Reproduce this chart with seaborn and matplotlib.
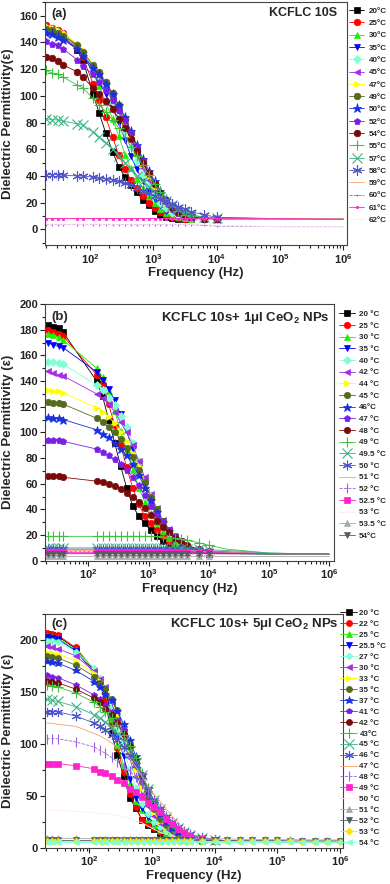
import seaborn as sns
import matplotlib.pyplot as plt
from matplotlib.ticker import MultipleLocator

# ---------------- panel (a): KCFLC 10S ----------------
freq_a = [20, 25, 31, 38, 63, 77, 112, 140, 178, 228, 284, 360, 440, 550, 680, 850,
          1050, 1300, 1600, 2000, 2500, 3200, 4000, 6300, 1e4, 1e5, 1e6]
labels_a = ["20°C", "25°C", "30°C", "35°C", "40°C", "45°C", "47°C", "49°C", "50°C",
            "52°C", "54°C", "55°C", "57°C", "58°C", "59°C", "60°C", "61°C", "62°C"]
a20 = [150, 149, 147, 145, 134, 127, 101, 87, 72, 58, 47, 39, 33, 28, 22, 18, 14, 11, 9, 8.5, 8, 8, 8, 8, 8, 8, 8]
a25 = [153, 151, 149, 147, 136, 129, 109, 97, 84, 69, 56, 45, 37, 31, 25, 20, 16, 13, 10.5, 9, 8.5, 8, 8, 8, 8, 8, 8]
a30 = [152, 151, 149, 147, 138, 132, 117, 107, 95, 83, 70, 56, 46, 38, 31, 25, 19.5, 15.5, 12.5, 10, 9, 8.5, 8, 8, 8, 8, 8]
a35 = [149, 147, 145, 143, 135, 130, 118, 110, 101, 91, 80, 67, 55, 45, 36, 29, 23, 18, 14, 11, 9.5, 8.5, 8, 8, 8, 8, 8]
a40 = [151, 150, 148, 146, 138, 133, 121, 114, 105, 95, 85, 74, 62, 51, 41, 33, 26, 20, 16, 12.5, 10.5, 9, 8.5, 8, 8, 8, 8]
a45 = [148, 147, 145, 143, 136, 131, 121, 115, 107, 98, 88, 78, 67, 56, 46, 37, 29, 23, 18, 14, 11.5, 10, 9, 8, 8, 8, 8]
a47 = [152, 151, 149, 147, 139, 134, 123, 117, 109, 100, 91, 81, 70, 59, 49, 40, 32, 25, 19.5, 15, 12, 10, 9, 8, 8, 8, 8]
a49 = [150, 149, 147, 145, 138, 133, 123, 118, 110, 102, 93, 83, 72, 61, 51, 42, 34, 27, 21, 16, 13, 10.5, 9.5, 8.5, 8, 8, 8]
a50 = [147, 146, 144, 142, 135, 130, 121, 116, 109, 101, 93, 84, 74, 63, 53, 44, 36, 29, 23, 18, 14, 11.5, 10, 8.5, 8, 8, 8]
a52 = [141, 139, 138, 135, 127, 122, 116, 110, 104, 97, 89, 82, 72, 62, 51, 42, 34, 27, 21, 16, 12, 10, 9, 8, 8, 8, 8]
a54 = [129, 128, 126, 123, 118, 114, 106, 101, 96, 90, 83, 76, 68, 59, 50, 42, 34, 27, 22, 17, 13, 10, 9, 8, 8, 8, 8]
a55 = [119, 117, 116, 114, 108, 106, 98, 93, 88, 82, 76, 69, 62, 55, 48, 41, 34, 28, 23, 18, 14, 11, 10, 9, 8.5, 8, 8]
a57 = [83, 82, 82, 81, 79, 78, 73, 69, 65, 60, 55, 50, 45, 40, 36, 32, 28, 24, 21, 18, 15, 13, 11, 9, 8.5, 8, 8]
a58 = [41, 41, 41, 40.5, 40, 40, 39, 38.5, 38, 37, 36, 34.5, 33, 31, 29, 27, 25, 23, 21, 19, 17, 15, 13, 11, 9, 8, 8]
a59 = [8.5, 8.5, 8.5, 8.5, 8.5, 8.5, 8.5, 8.5, 8.5, 8.5, 8.5, 8.5, 8.5, 8.5, 8.5, 8.5, 8.5, 8.5, 8.5, 8.5, 8.5, 8.5, 8.5, 8.5, 8.5, 8.5, 8.5]
a60 = [3.5, 3.5, 3.5, 3.5, 3.5, 3.5, 3.5, 3.5, 3.5, 3.5, 3.5, 3.5, 3.5, 3.5, 3.5, 3.5, 3.5, 3.5, 3.5, 3.5, 3.5, 3.5, 3.5, 3, 2.5, 2, 2]
a61 = [8, 8, 8, 8, 8, 8, 8, 8, 8, 8, 8, 8, 8, 8, 8, 8, 8, 8, 8, 8, 8, 8, 8, 8, 8, 8, 7.5]
a62 = [3.8, 3.8, 3.8, 3.8, 3.8, 3.8, 3.8, 3.8, 3.8, 3.8, 3.8, 3.8, 3.8, 3.8, 3.8, 3.8, 3.8, 3.8, 3.8, 3.8, 3.8, 3.8, 3.8, 3.5, 3, 2, 2]

# ---------------- panel (b): KCFLC 10s + 1 ul CeO2 ----------------
freq_b = [21, 26, 32, 38, 137, 172, 216, 272, 342, 430, 541, 681, 857, 1080, 1360, 1710,
          2150, 2700, 3400, 4300, 6800, 1e4, 2e4, 1e5, 1e6]
labels_b = ["20 °C", "25 °C", "30 °C", "35 °C", "40 °C", "42 °C", "44 °C", "45 °C", "46°C", "47 °C",
            "48 °C", "49 °C", "49.5 °C", "50 °C", "51 °C", "52 °C", "52.5 °C", "53 °C", "53.5 °C", "54°C"]
b20 = [184, 182, 181, 178, 140, 128, 110, 92, 74, 57, 43, 35, 29, 24, 19, 15, 12, 9.5, 8, 7, 6, 5.5, 5, 5, 5]
b25 = [180, 178, 177, 175, 145, 138, 122, 106, 90, 73, 57, 44, 35, 29, 24, 19, 15, 12, 9.5, 8, 6.5, 6, 5.5, 5, 5]
b30 = [177, 176, 174, 172, 150, 143, 132, 117, 101, 86, 71, 57, 46, 37, 29, 23, 18, 14, 11, 9, 7, 6, 5.5, 5, 5]
b35 = [170, 168, 167, 166, 147, 141, 134, 125, 114, 101, 87, 72, 58, 46, 36, 28, 22, 17, 13, 10, 7.5, 6.5, 5.5, 5, 5]
b40 = [155, 155, 154, 153, 137, 133, 127, 121, 113, 104, 92, 78, 63, 50, 39, 30, 23, 18, 14, 11, 8, 6.5, 5.5, 5, 5]
b42 = [148, 146, 145, 144, 130, 127, 122, 116, 108, 100, 90, 78, 65, 52, 41, 32, 25, 19, 15, 11, 8, 6.5, 5.5, 5, 5]
b44 = [133, 132, 132, 131, 119, 116, 112, 107, 100, 93, 84, 74, 62, 51, 40, 31, 24, 19, 15, 11, 8, 6.5, 5.5, 5, 5]
b45 = [124, 123, 123, 122, 111, 108, 104, 100, 95, 88, 81, 71, 61, 50, 40, 31, 24, 19, 15, 11, 8, 6.5, 5.5, 5, 5]
b46 = [112, 111, 111, 110, 102, 99, 96, 92, 87, 82, 75, 67, 57, 47, 38, 30, 23, 18, 14, 11, 8, 6.5, 5.5, 5, 5]
b47 = [94, 94, 94, 93, 87, 85, 82, 79, 75, 71, 65, 59, 51, 43, 36, 30, 24, 19, 15, 12, 8.5, 7, 6, 5, 5]
b48 = [66, 66, 66, 65, 62, 61, 60, 58, 56, 53, 50, 46, 41, 36, 31, 26, 22, 18, 15, 12, 9, 7.5, 6, 5, 5]
b49 = [19, 19, 19, 19, 19, 19, 19, 19, 19, 19, 19, 19, 19, 19, 19, 18.5, 18, 17.5, 17, 16, 14, 12, 9, 6, 5]
b495 = [10, 10, 10, 10, 10, 10, 10, 10, 10, 10, 10, 10, 10, 10, 10, 10, 10, 10, 9.5, 9.5, 9, 8.5, 8, 6, 5]
b50 = [9, 9, 9, 9, 9, 9, 9, 9, 9, 9, 9, 9, 9, 9, 9, 9, 9, 9, 8.5, 8.5, 8, 7.5, 7, 5.5, 5]
b51 = [8, 8, 8, 8, 8, 8, 8, 8, 8, 8, 8, 8, 8, 8, 8, 8, 8, 8, 8, 8, 7.5, 7, 6.5, 5.5, 5]
b52 = [7, 7, 7, 7, 7, 7, 7, 7, 7, 7, 7, 7, 7, 7, 7, 7, 7, 7, 7, 7, 7, 6.5, 6, 5.5, 5]
b525 = [6.5, 6.5, 6.5, 6.5, 6.5, 6.5, 6.5, 6.5, 6.5, 6.5, 6.5, 6.5, 6.5, 6.5, 6.5, 6.5, 6.5, 6.5, 6.5, 6.5, 6.5, 6, 6, 5.5, 5]
b53 = [5, 5, 5, 5, 5, 5, 5, 5, 5, 5, 5, 5, 5, 5, 5, 5, 5, 5, 5, 5, 5, 5, 5, 5, 5]
b535 = [4, 4, 4, 4, 4, 4, 4, 4, 4, 4, 4, 4, 4, 4, 4, 4, 4, 4, 4, 4, 4, 4, 4, 4, 4]
b54 = [5.5, 5.5, 5.5, 5.5, 5.5, 5.5, 5.5, 5.5, 5.5, 5.5, 5.5, 5.5, 5.5, 5.5, 5.5, 5.5, 5.5, 5.5, 5.5, 5.5, 5.5, 5.5, 5.5, 5, 5]

# ---------------- panel (c): KCFLC 10s + 5 ul CeO2 ----------------
freq_c = [21, 25, 31, 60, 120, 145, 180, 225, 280, 350, 440, 550, 690, 850, 1060, 1330, 1650,
          2070, 2600, 3200, 4000, 6300, 1e4, 1.6e4, 2.5e4, 4e4, 6.3e4, 1e5, 1.6e5, 2.5e5, 4e5, 6.3e5, 1e6]
labels_c = ["20 °C", "22 °C", "25 °C", "25.5 °C", "27 °C", "30 °C", "33 °C", "35 °C", "37 °C", "41 °C", "42 °C",
            "43°C", "45 °C", "46 °C", "47 °C", "48 °C", "49 °C", "50 °C", "51 °C", "52 °C", "53 °C", "54 °C"]
c20 = [206, 205, 204, 192, 170, 160, 140, 111, 89, 69, 48, 38, 27, 22, 18, 14.5, 12, 10, 8.5, 7.5, 7, 6.5, 6.2, 6, 6, 6, 5.9, 5.8, 5.8, 5.7, 5.6, 5.6, 5.5]
c22 = [207, 206, 205, 193, 171, 161, 143, 119, 96, 73, 52, 39, 27, 23, 19, 15.5, 12.5, 10, 8.5, 7.5, 7, 6.5, 6.2, 6, 6, 6, 5.9, 5.8, 5.8, 5.7, 5.6, 5.6, 5.5]
c25 = [204, 203, 202, 191, 172, 163, 150, 124, 99, 80, 62, 45, 36, 28, 22, 17, 14, 11, 9, 8, 7, 6.5, 6.2, 6, 6, 6, 5.9, 5.8, 5.8, 5.7, 5.6, 5.6, 5.5]
c255 = [203, 202, 201, 190, 168, 160, 152, 128, 108, 88, 66, 48, 38, 30, 24, 19, 15, 12, 9.5, 8, 7, 6.5, 6.2, 6, 6, 6, 5.9, 5.8, 5.8, 5.7, 5.6, 5.6, 5.5]
c27 = [199, 199, 198, 189, 173, 164, 153, 136, 116, 96, 76, 58, 42, 32, 25, 20, 16, 12.5, 10, 8.5, 7.5, 6.5, 6.2, 6, 6, 6, 5.9, 5.8, 5.8, 5.7, 5.6, 5.6, 5.5]
c30 = [194, 193, 192, 185, 170, 163, 155, 140, 123, 105, 86, 68, 52, 40, 31, 24, 19, 15, 12, 9.5, 8, 7, 6.2, 6, 6, 6, 5.9, 5.8, 5.8, 5.7, 5.6, 5.6, 5.5]
c33 = [189, 188, 187, 180, 168, 161, 154, 143, 128, 112, 94, 76, 58, 44, 34, 26, 20, 16, 12.5, 10, 8.5, 7, 6.2, 6, 6, 6, 5.9, 5.8, 5.8, 5.7, 5.6, 5.6, 5.5]
c35 = [185, 184, 183, 176, 165, 159, 153, 143, 133, 113, 97, 80, 63, 48, 37, 28, 22, 17, 13, 10.5, 9, 7, 6.2, 6, 6, 6, 5.9, 5.8, 5.8, 5.7, 5.6, 5.6, 5.5]
c37 = [180, 179, 178, 171, 160, 155, 148, 142, 132, 119, 104, 88, 70, 54, 42, 32, 25, 19, 15, 12, 9.5, 7.5, 6.5, 6, 6, 6, 5.9, 5.8, 5.8, 5.7, 5.6, 5.6, 5.5]
c41 = [166, 165, 164, 157, 147, 143, 138, 131, 123, 113, 99, 83, 68, 55, 45, 37, 30, 24, 19, 15, 12, 9, 7, 6.2, 6, 6, 5.9, 5.8, 5.8, 5.7, 5.6, 5.6, 5.5]
c42 = [161, 160, 159, 153, 144, 140, 134, 128, 120, 110, 98, 85, 70, 56, 44, 36, 29, 23, 18, 14, 11, 8.5, 7, 6.2, 6, 6, 5.9, 5.8, 5.8, 5.7, 5.6, 5.6, 5.5]
c43 = [157, 156, 155, 149, 140, 136, 131, 125, 118, 109, 98, 86, 72, 58, 46, 37, 30, 24, 19, 15, 12, 9, 7, 6.2, 6, 6, 5.9, 5.8, 5.8, 5.7, 5.6, 5.6, 5.5]
c45 = [143, 142, 141, 136, 128, 125, 121, 116, 110, 102, 93, 82, 70, 57, 46, 37, 30, 24, 19, 15, 12, 9, 7, 6.2, 6, 6, 5.9, 5.8, 5.8, 5.7, 5.6, 5.6, 5.5]
c46 = [131, 131, 131, 127, 120, 117, 113, 109, 104, 97, 89, 80, 69, 57, 46, 37, 30, 25, 20, 16, 13, 10, 8, 6.5, 6, 6, 5.9, 5.8, 5.8, 5.7, 5.6, 5.6, 5.5]
c47 = [120, 120, 119, 117, 110, 108, 105, 101, 97, 92, 86, 78, 69, 60, 52, 45, 38, 31, 24, 18, 14, 9, 7, 6.2, 6, 6, 5.9, 5.8, 5.8, 5.7, 5.6, 5.6, 5.5]
c48 = [105, 105, 105, 102, 97, 94, 91, 87, 83, 79, 74, 68, 61, 53, 45, 38, 31, 25, 20, 16, 13, 9.5, 7.5, 6.5, 6, 6, 5.9, 5.8, 5.8, 5.7, 5.6, 5.6, 5.5]
c49 = [81, 81, 81, 79, 76, 73, 72, 69, 65, 62, 57, 54, 49, 43, 39, 34, 28, 23, 18, 14, 11, 8, 7, 6.2, 6, 6, 5.9, 5.8, 5.8, 5.7, 5.6, 5.6, 5.5]
c50 = [36, 36, 36, 35, 34, 33, 33, 32, 31, 30, 28, 26, 24, 21, 18, 15, 13, 11, 9, 8, 7, 6.5, 6.2, 6, 6, 6, 5.9, 5.8, 5.8, 5.7, 5.6, 5.6, 5.5]
c51 = [9, 9, 9, 9, 8.5, 8.5, 8.5, 8.5, 8.5, 8.5, 8.5, 8.5, 8.5, 8.5, 8.5, 8.5, 8.5, 8.5, 8.5, 8.5, 8.5, 8.5, 8.5, 8.5, 8, 8, 8, 8, 8, 7.5, 7.5, 7.5, 7.5]
c52 = [7, 7, 7, 7, 7, 7, 7, 7, 7, 7, 7, 7, 7, 7, 7, 7, 7, 7, 7, 7, 7, 7, 7, 7, 7, 7, 7, 7, 6.5, 6.5, 6.5, 6.5, 6.5]
c53 = [6, 6, 6, 6, 6, 6, 6, 6, 6, 6, 6, 6, 6, 6, 6, 6, 6, 6, 6, 6, 6, 6, 6, 6, 6, 6, 6, 6, 6, 5.5, 5.5, 5.5, 5.5]
c54 = [5, 5, 5, 5, 5, 5, 5, 5, 5, 5, 5, 5, 5, 5, 5, 5, 5, 5, 5, 5, 5, 5, 5, 5, 5, 5, 5, 5, 5, 5, 5, 5, 5]

series_a = [a20, a25, a30, a35, a40, a45, a47, a49, a50, a52, a54, a55, a57, a58, a59, a60, a61, a62]
series_b = [b20, b25, b30, b35, b40, b42, b44, b45, b46, b47, b48, b49, b495, b50, b51, b52, b525, b53, b535, b54]
series_c = [c20, c22, c25, c255, c27, c30, c33, c35, c37, c41, c42, c43, c45, c46, c47, c48, c49, c50,
            c51, c52, c53, c54]

# Origin-like style sequence (same slot order in every panel)
colors = ["#000000", "#FF0000", "#22EE00", "#0000FF", "#7FFFD4", "#A030E0", "#FFFF00", "#556B1F",
          "#1A2FE0", "#7B1FE8", "#7A0A0A", "#3CC03C", "#3CB383", "#5055C8", "#F5A070", "#9A5FE0",
          "#FF22CC", "#FFE8F2", "#A9A9A9", "#4F5F5F", "#FFE000", "#80FFD0"]
markers = ["s", "o", "^", "v", "D", "<", ">", "o", "*", "p", "o", "+", "x", (6, 2, 0),
           "None", "|", "s", "None", "^", "v", "D", "<"]
open_markers = {"+", "x", "|"}

sns.set_theme(style="ticks")
plt.rcParams["font.family"] = ["Liberation Sans", "DejaVu Sans"]
plt.rcParams["font.weight"] = "bold"
plt.rcParams["axes.labelweight"] = "bold"
plt.rcParams["mathtext.fontset"] = "custom"
plt.rcParams["mathtext.rm"] = "Liberation Sans:bold"
plt.rcParams["mathtext.it"] = "Liberation Sans:italic:bold"
plt.rcParams["mathtext.bf"] = "Liberation Sans:bold"
plt.rcParams["mathtext.default"] = "regular"

fig = plt.figure(figsize=(3.9, 8.84), dpi=100)


def draw_panel(ax, freq, series, labels, ms, n_mark, full_mark=(), tiny_mark=()):
    for i, (vals, lab) in enumerate(zip(series, labels)):
        m = markers[i]
        c = colors[i]
        size = ms
        mew = 0.5
        if m == "*":
            size = ms * 1.4
        elif m == "D":
            size = ms * 0.8
        elif m in open_markers or isinstance(m, tuple):
            size = ms * 1.5
            mew = 0.8
        if i in tiny_mark:
            size = 2.0
        every = slice(None) if i in full_mark else slice(0, n_mark)
        sns.lineplot(x=freq, y=vals, ax=ax, color=c, marker=m, markersize=size,
                     markeredgecolor=c, markerfacecolor=c, markeredgewidth=mew,
                     markevery=every, linewidth=0.6,
                     linestyle="--" if m == "|" else "-", label=lab)
    ax.set_xscale("log")
    ax.tick_params(axis="both", which="both", direction="out", top=False, right=False,
                   labelsize=8, width=0.8, colors="#222222", pad=1.5)
    ax.tick_params(which="major", length=3.5)
    ax.tick_params(which="minor", length=2)
    for sp in ax.spines.values():
        sp.set_linewidth(0.8)
        sp.set_color("#444444")
    ax.set_xlabel("Frequency (Hz)", fontsize=9.5, fontweight="bold", labelpad=1)


# ---- (a)
ax_a = fig.add_axes([0.1154, 0.7229, 0.7744, 0.2752])
draw_panel(ax_a, freq_a, series_a, labels_a, 4.8, 25, tiny_mark=(15, 16))
ax_a.set_xlim(19.5, 1.15e6)
ax_a.set_ylim(-11.7, 170.5)
ax_a.yaxis.set_major_locator(MultipleLocator(20))
ax_a.yaxis.set_minor_locator(MultipleLocator(10))
ax_a.set_ylabel("Dielectric Permittivity(ε)", fontsize=9.5, fontweight="bold", labelpad=4)
ax_a.text(0.022, 0.949, "(a)", transform=ax_a.transAxes, fontsize=9, fontweight="bold", va="center")
ax_a.text(0.967, 0.955, "KCFLC 10S", transform=ax_a.transAxes, fontsize=9, fontweight="bold",
          va="center", ha="right")

# ---- (b)
ax_b = fig.add_axes([0.1154, 0.3657, 0.741, 0.2904])
draw_panel(ax_b, freq_b, series_b, labels_b, 4.6, 22)
ax_b.set_xlim(19, 1.2e6)
ax_b.set_ylim(0, 200)
ax_b.yaxis.set_major_locator(MultipleLocator(20))
ax_b.yaxis.set_minor_locator(MultipleLocator(10))
ax_b.set_ylabel("Dielectric Permittivity (ε)", fontsize=9.5, fontweight="bold", labelpad=4)
ax_b.text(0.023, 0.951, "(b)", transform=ax_b.transAxes, fontsize=9.5, fontweight="bold", va="center")
ax_b.text(0.986, 0.944, "KCFLC 10s+ 1μl CeO$_2$ NPs", transform=ax_b.transAxes, fontsize=9.5,
          fontweight="bold", va="center", ha="right")

# ---- (c)
ax_c = fig.add_axes([0.1154, 0.0411, 0.764, 0.264])
draw_panel(ax_c, freq_c, series_c, labels_c, 4.4, 23, full_mark=(18, 19, 20, 21))
ax_c.set_xlim(19.5, 1.12e6)
ax_c.set_ylim(0, 225)
ax_c.yaxis.set_major_locator(MultipleLocator(50))
ax_c.yaxis.set_minor_locator(MultipleLocator(25))
ax_c.set_ylabel("Dielectric Permittivity (ε)", fontsize=9.5, fontweight="bold", labelpad=4)
ax_c.text(0.022, 0.957, "(c)", transform=ax_c.transAxes, fontsize=9.5, fontweight="bold", va="center")
ax_c.text(0.984, 0.957, "KCFLC 10s+ 5μl CeO$_2$ NPs", transform=ax_c.transAxes, fontsize=9.5,
          fontweight="bold", va="center", ha="right")

# legends outside on the right
for ax, anchor, hl, htp, ls in [(ax_a, (0.895, 0.9919), 1.9, 0.6, 0.58),
                                (ax_b, (0.868, 0.6488), 2.1, 0.45, 0.50),
                                (ax_c, (0.872, 0.3105), 2.1, 0.3, 0.41)]:
    h, l = ax.get_legend_handles_labels()
    ax.legend(h, l, loc="upper left", bbox_to_anchor=anchor, bbox_transform=fig.transFigure,
              frameon=False, fontsize=5.8, handlelength=hl, handletextpad=htp, labelspacing=ls,
              borderpad=0, borderaxespad=0, numpoints=1)

fig.savefig("out.png", dpi=100)
